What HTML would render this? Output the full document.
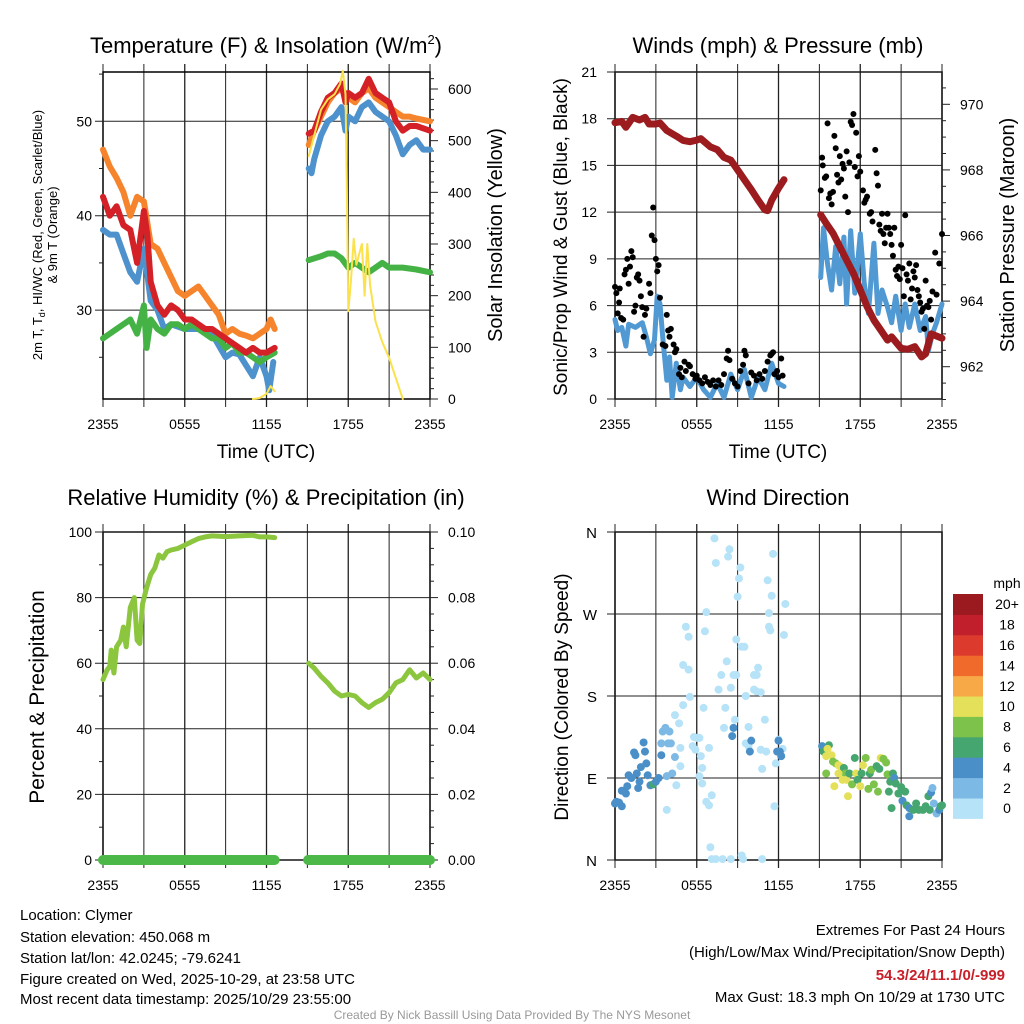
<!DOCTYPE html>
<html><head><meta charset="utf-8"><style>
html,body{margin:0;padding:0;background:#fff;}
svg{display:block;font-family:"Liberation Sans",Arial,sans-serif;}
</style></head><body>
<svg id="chart" width="1024" height="1024" viewBox="0 0 1024 1024" xmlns="http://www.w3.org/2000/svg">
<rect width="1024" height="1024" fill="#fff"/>
<g id="g1"></g>
<g id="g2"></g>
<g id="g3"></g>
<g id="g4"></g>
<g id="cb"></g>
<text x="266" y="53" font-size="22" text-anchor="middle">Temperature (F) &amp; Insolation (W/m<tspan font-size="13" dy="-9">2</tspan><tspan dy="9">)</tspan></text>
<text x="778" y="53" font-size="22" text-anchor="middle">Winds (mph) &amp; Pressure (mb)</text>
<text x="266" y="505" font-size="22" text-anchor="middle">Relative Humidity (%) &amp; Precipitation (in)</text>
<text x="778" y="505" font-size="22" text-anchor="middle">Wind Direction</text>
<text x="266" y="458" font-size="19" text-anchor="middle">Time (UTC)</text>
<text x="778" y="458" font-size="19" text-anchor="middle">Time (UTC)</text>
<text transform="translate(42,235) rotate(-90)" font-size="13" text-anchor="middle">2m T, T<tspan font-size="9" dy="3">d</tspan><tspan dy="-3">, HI/WC (Red, Green, Scarlet/Blue)</tspan></text>
<text transform="translate(57,235) rotate(-90)" font-size="13" text-anchor="middle">&amp; 9m T (Orange)</text>
<text transform="translate(502,235) rotate(-90)" font-size="20" text-anchor="middle">Solar Insolation (Yellow)</text>
<text transform="translate(567,237) rotate(-90)" font-size="19" text-anchor="middle">Sonic/Prop Wind &amp; Gust (Blue, Black)</text>
<text transform="translate(1014,235) rotate(-90)" font-size="20" text-anchor="middle">Station Pressure (Maroon)</text>
<text transform="translate(44,697) rotate(-90)" font-size="21" text-anchor="middle">Percent &amp; Precipitation</text>
<text transform="translate(568,697) rotate(-90)" font-size="19" text-anchor="middle">Direction (Colored By Speed)</text>
<g font-size="15">
<text x="20" y="920">Location: Clymer</text>
<text x="20" y="942">Station elevation: 450.068 m</text>
<text x="20" y="963">Station lat/lon: 42.0245; -79.6241</text>
<text x="20" y="984">Figure created on Wed, 2025-10-29, at 23:58 UTC</text>
<text x="20" y="1004">Most recent data timestamp: 2025/10/29 23:55:00</text>
</g>
<g font-size="15" text-anchor="end">
<text x="1005" y="935">Extremes For Past 24 Hours</text>
<text x="1005" y="957">(High/Low/Max Wind/Precipitation/Snow Depth)</text>
<text x="1005" y="980" fill="#c8202a" font-weight="bold">54.3/24/11.1/0/-999</text>
<text x="1005" y="1002">Max Gust: 18.3 mph On 10/29 at 1730 UTC</text>
</g>
<text x="512" y="1019" font-size="12" fill="#999" text-anchor="middle">Created By Nick Bassill Using Data Provided By The NYS Mesonet</text>
</svg>
<script>
// ---------- data (hours since 2355 UTC) ----------
const xTickLabels = ["2355","0555","1155","1755","2355"];
const tempTicks = [30,40,50];
const insolTicks = [0,100,200,300,400,500,600];
const windTicks = [0,3,6,9,12,15,18,21];
const presTicks = [962,964,966,968,970];
const rhTicks = [0,20,40,60,80,100];
const precipTickLabels = ["0.00","0.02","0.04","0.06","0.08","0.10"];
const dirTickLabels = ["N","E","S","W","N"];

const orangeH = [0,0.5,1,1.5,2,2.5,3,3.5,4,4.5,5,5.5,6,6.5,7,7.5,8,8.5,9,9.5,10,10.5,11,11.5,12,12.3,12.6, 15.1,15.5,16,16.5,17,17.5,18,18.5,19,19.5,20,20.5,21,21.5,22,22.5,23,24];
const orangeV = [47,45.2,44,42.5,40,42,41.5,37,36.5,35,33.5,32,31.5,32,32.5,31.5,30.5,29.5,27.5,28,27.5,27.3,27,27.5,28,29,28, 47.5,49,50.5,52,53,53.5,52.5,52,53,53.5,52.5,52,51.5,51,50.5,50.5,50.3,50];
const redH = [0,0.5,1,1.5,2,2.5,3,3.25,3.5,4,4.5,5,5.5,6,6.5,7,7.5,8,8.5,9,9.5,10,10.5,11,11.5,12,12.6, 15.1,15.5,16,16.5,17,17.5,17.8,18,18.5,19,19.5,20,20.5,21,21.5,22,22.5,23,24];
const redV = [42,40,41,39,38.5,35,40.5,38,33,30.5,29.5,30.5,30,29,29,28.5,28,28,27.5,27,26.5,26,25.5,26,25.5,25.5,26, 48.7,49,51,52.5,53,54,52,53,52.5,53,54.5,53,52.5,52,50,49,49.5,49.5,49];
const blueH = [0,0.5,1,1.5,2,2.5,3,3.5,4,4.5,5,6,7,8,9,9.5,10,11,11.5,12,12.2,12.5, 15.1,15.3,15.5,16,16.5,17,17.5,17.8,18,18.5,19,19.5,20,20.5,21,21.5,22,22.5,23,23.5,24];
const blueV = [38.5,38,38,36,34,33,36.5,31,30,28,28.5,28,28,27.5,25,25.5,25.3,23,25,23,21.5,24.5, 45,44.5,46,48.5,50,50.5,51.5,49,50.5,50,51.5,52,51,50.5,50,48.5,46.5,47.5,48,47,47];
const greenH = [0,0.5,1,1.5,2,2.5,3,3.2,3.5,4,4.5,5,5.5,6,6.5,7,7.5,8,8.5,9,9.5,10,10.5,11,11.5,12,12.6, 15.1,16,16.5,17,17.5,18,18.5,19,19.5,20,20.5,21,22,23,24];
const greenV = [27,27.5,28,28.5,29,27.5,30.5,26,29,28,27.5,28.5,28.5,28,28.5,28,27.5,27,27,26,26.5,25.5,25.5,25,24.5,25,25.5, 35.3,35.7,36,36,35.5,34.5,35,34.5,34,34.5,35,34.5,34.5,34.3,34];
const insolH = [0,4,8,11,11.5,12,12.3,12.6, 15.1,15.5,16,16.5,17,17.4,17.6,17.8,17.9,18,18.2,18.4,18.6,18.8,19,19.2,19.4,19.6,20,20.5,21,21.5,22,24];
const insolV = [0,0,0,0,2,10,25,15, 470,510,560,580,590,610,635,590,400,170,230,310,260,280,300,200,300,220,150,110,80,40,0,0];

const presH = [0,0.5,0.8,1.3,1.8,2.2,2.5,3,3.3,3.8,4.5,5,5.5,6,6.3,7,7.5,8,8.5,9,9.5,10,10.5,11,11.2,11.5,12,12.4, 15.1,15.5,16,16.5,17,17.5,18,18.5,19,19.5,20,20.3,20.7,21,21.5,22,22.5,22.8,23.2,23.5,24];
const presV = [969.44,969.48,969.3,969.6,969.52,969.6,969.4,969.4,969.43,969.2,969.03,968.9,968.86,968.91,968.95,968.7,968.62,968.38,968.3,968.0,967.7,967.4,967.08,966.78,966.76,967.08,967.44,967.7, 966.63,966.37,966.07,965.66,965.25,964.85,964.34,963.83,963.42,963.12,962.81,962.91,962.71,962.56,962.53,962.61,962.3,962.4,963.0,962.95,962.87];
const windH = [0,0.2,0.5,0.8,1,1.5,2,2.3,2.6,2.9,3.1,3.3,3.5,3.8,4,4.2,4.5,4.8,5,5.5,6,6.5,7,7.5,8,8.5,9,9.5,10,10.5,11,11.5,12,12.4, 15.1,15.3,15.6,15.9,16.2,16.5,16.8,17,17.3,17.6,18,18.3,18.6,19,19.3,19.6,20,20.3,20.6,21,21.3,21.6,22,22.4,22.8,23,23.3,23.6,24];
const windV = [5.1,4.4,4.6,3.4,4.8,4.6,4.9,4.0,2.9,3.8,6.6,6.1,4.0,1.2,2.7,0.1,2.3,0.6,1.4,0.8,1.4,0.6,0.1,1.0,0.1,1.6,0.6,1.9,0.1,1.4,0.6,2.3,1.0,0.8, 7.8,11.0,8.7,7.0,9.8,7.4,10.4,6.1,10.8,6.8,10.6,7.4,5.5,10.0,5.5,7.0,5.9,4.9,6.6,4.4,6.1,4.6,6.1,4.4,5.3,3.1,4.2,4.9,6.1];
const gustH = [0,0.1,0.2,0.3,0.35,0.45,0.6,0.7,0.8,0.9,1.0,1.1,1.2,1.3,1.4,1.5,1.6,1.7,1.8,1.9,2.0,2.1,2.2,2.3,2.5,2.6,2.7,2.8,2.9,3.0,3.1,3.2,3.3,3.5,3.7,3.8,3.9,4.0,4.1,4.3,4.4,4.5,4.7,4.8,4.9,5.1,5.2,5.4,5.5,5.7,5.9,6.0,6.2,6.4,6.6,6.8,7.0,7.2,7.4,7.6,7.8,8.0,8.2,8.3,8.4,8.6,8.8,9.0,9.2,9.4,9.5,9.6,9.8,10.0,10.2,10.4,10.6,10.8,11.0,11.2,11.4,11.5,11.6,11.7,11.9,12.0,12.2,12.3,
 15.1,15.2,15.25,15.4,15.5,15.6,15.7,15.8,15.9,16.0,16.1,16.2,16.3,16.4,16.5,16.6,16.7,16.8,16.9,17.0,17.1,17.2,17.3,17.4,17.5,17.6,17.7,17.8,17.9,18.0,18.2,18.3,18.4,18.5,18.7,18.8,18.9,19.1,19.2,19.3,19.4,19.5,19.6,19.7,19.8,19.9,20.0,20.1,20.2,20.3,20.4,20.5,20.6,20.7,20.8,20.9,21.0,21.1,21.2,21.3,21.4,21.5,21.6,21.7,21.8,21.9,22.0,22.1,22.2,22.3,22.4,22.5,22.6,22.7,22.8,22.9,23.0,23.1,23.2,23.3,23.5,23.6,23.8,24.0];
const gustV = [7.2,6.8,5.5,6.2,7.1,5.2,5.1,8.0,8.3,9.0,7.4,8.5,9.5,9.1,5.6,6.0,7.8,8.0,7.6,6.6,5.9,4.0,5.4,5.8,7.4,6.8,10.5,12.3,10.2,9.0,8.2,8.6,6.5,3.5,3.4,5.4,4.4,4.0,4.5,3.5,3.0,3.2,1.6,2.0,1.4,2.4,1.8,2.2,2.1,1.6,1.3,1.5,1.2,1.0,1.4,1.1,0.9,1.2,0.8,1.2,0.9,1.6,2.6,3.1,2.5,1.3,1.0,0.8,1.8,2.2,3.1,2.8,1.0,1.7,1.5,1.2,1.6,1.3,1.8,2.4,2.8,2.9,3.0,1.6,1.8,1.4,2.6,1.5,
 13.4,15.5,15.0,14.2,14.3,17.7,12.9,13.2,12.5,13.3,16.9,16.1,14.4,13.9,15.6,14.1,15.1,14.8,13.0,15.9,12.0,15.2,17.8,17.6,18.3,14.9,17.1,14.3,15.6,14.6,13.4,12.6,12.8,13.0,11.9,12.0,11.4,16.0,14.5,13.7,11.2,10.8,11.9,10.6,10.0,11.0,11.9,11.0,10.6,9.9,9.2,11.0,8.3,7.9,8.5,7.7,9.9,8.4,6.6,11.8,8.0,7.6,8.7,6.4,7.1,8.2,7.8,8.6,7.0,6.6,6.2,5.6,5.8,4.5,7.6,6.0,5.9,6.3,5.1,6.9,9.4,6.7,8.7,10.6];

const rhH = [0,0.3,0.5,0.6,0.8,1.0,1.3,1.5,1.7,2.0,2.3,2.5,2.7,2.9,3.2,3.5,3.8,4.1,4.4,4.7,5,5.5,6,6.5,7,7.5,8,9,10,11,11.5,12,12.6, 15.1,15.5,16,16.5,17,17.5,18,18.5,19,19.5,20,20.5,21,21.5,22,22.5,23,23.5,24];
const rhV = [55,58,59,64,57,65,67,71,65,77,80,67,66,78,83,87,89,93,92,94,94.5,95,96,97,98,98.5,98.8,98.6,98.8,99,98.5,98.5,98.3, 60,58.5,56,54,51.5,50,50.5,50,48,46.5,48,49,51,54,55,58,55.5,57,55];
const precipH = [0,1,2,3,4,5,6,7,8,9,10,11,12,12.6, 15.05,16,17,18,19,20,21,22,23,24];
const precipV = [0,0,0,0,0,0,0,0,0,0,0,0,0,0, 0,0,0,0,0,0,0,0,0,0];

const dirH = [0.0,0.1,0.3,0.5,0.5,0.8,0.9,1.0,1.2,1.4,1.5,1.6,1.7,1.8,1.9,2.1,2.2,2.3,2.4,2.6,2.8,3.0,3.2,3.4,4.2,4.4,
 3.5,3.7,4.0,3.4,3.9,4.1,3.8,
 3.8,4.4,4.7,4.8,4.5,4.8,5.0,5.2,5.4,5.4,5.5,5.0,5.8,5.7,5.9,6.0,6.2,6.3,6.4,6.4,6.2,6.5,6.6,6.7,6.9,7.1,6.7,6.9,7.0,7.1,7.4,7.4,7.3,7.6,7.8,7.9,8.0,8.1,8.2,8.3,8.4,8.5,8.5,8.7,8.9,8.9,9.0,9.1,9.2,9.3,9.4,9.3,9.5,9.6,9.8,9.6,9.8,10.2,10.4,10.5,10.2,10.4,10.7,10.7,10.8,10.8,11.0,11.1,11.2,11.3,11.3,11.4,11.5,11.6,11.7,11.8,12.0,12.3,12.4,12.5,
 8.8,8.7,8.6,10.0,9.9,12.0,12.1,12.2,11.9,
 15.2,15.7,15.3,15.5,15.6,15.9,16.0,16.2,16.4,16.6,16.8,16.9,15.5,16.1,16.4,16.7,17.0,17.1,17.2,17.4,17.6,17.7,17.8,18.0,18.1,18.2,18.4,18.6,18.7,18.8,19.0,19.2,19.3,19.4,19.5,19.7,19.9,20.0,20.1,20.2,20.3,20.4,20.5,20.6,20.8,21.0,21.1,21.3,21.4,21.6,21.6,21.9,22.1,22.3,22.6,22.8,23.1,23.0,23.2,23.3,23.4,23.6,23.8,23.9,24.0];
const dirV = [62,64,63,59,76,73,81,93,90,118,115,95,79,86,102,129,119,106,93,82,83,86,90,115,95,113,
 141,145,141,128,128,128,92,
 55,159,150,123,82,103,214,256,245,209,179,170,135,125,121,134,134,114,101,84,92,167,251,272,123,71,64,60,14,1,1,326,353,187,203,1,145,167,218,333,341,1,189,203,203,242,289,309,321,5,1,234,234,180,146,128,125,203,203,211,187,185,184,121,1,100,154,119,307,271,256,252,290,336,59,106,132,122,247,281,
 154,145,136,131,119,131,119,114,119,
 125,126,119,114,122,115,108,106,104,102,101,95,95,81,95,88,88,70,95,83,112,95,88,81,95,104,112,78,95,99,83,103,75,100,112,111,107,94,75,86,57,95,90,84,73,80,65,75,60,48,57,55,62,55,55,59,55,70,74,79,62,51,55,59,60];
const dirSpeed = [5,5,5,5,5,5,5,5,5,5,5,5,5,5,5,5,5,5,5,5,7,5,5,5,3,3,
 3,3,3,3,3,3,3,
 1,1,1,1,1,1,1,1,1,1,1,1,1,1,1,1,1,1,1,1,1,1,1,1,1,1,1,1,1,1,1,1,1,1,1,1,1,1,1,1,1,1,1,1,1,1,1,1,1,1,1,1,1,1,1,1,1,1,1,1,1,1,1,1,1,1,1,1,1,1,1,1,1,1,1,1,1,1,1,1,1,
 5,5,5,5,5,5,5,5,5,
 7,7,11,11,11,9,9,11,11,7,9,9,11,11,11,11,11,7,9,7,11,7,11,7,11,9,9,7,9,9,7,9,7,11,9,9,9,7,7,7,7,5,7,7,7,5,7,7,5,5,7,7,7,7,7,7,7,5,3,3,3,5,7,7,7];
const cbLabels = ["0","2","4","6","8","10","12","14","16","18","20+"];
const cbColors = ["#b6e3f8","#7db9e5","#4a8fc8","#46a670","#7dc24b","#e5e05a","#f7a947","#f06b2b","#dd3a2e","#c01f2b","#9b1a1f"];

// ---------- drawing ----------
const NS = "http://www.w3.org/2000/svg";
function mk(parent, tag, attrs){const e=document.createElementNS(NS,tag);for(const k in attrs)e.setAttribute(k,attrs[k]);parent.appendChild(e);return e;}
function txt(parent,x,y,s,size,anchor){const t=mk(parent,"text",{x:x,y:y,"font-size":size,"text-anchor":anchor});t.textContent=s;return t;}
function scale(d0,d1,r0,r1){return v=>r0+(v-d0)/(d1-d0)*(r1-r0);}
function segs(hs,vs,sx,sy){const out=[];let cur=[];for(let i=0;i<hs.length;i++){if(i>0&&hs[i]-hs[i-1]>1.5){out.push(cur);cur=[];}cur.push(sx(hs[i]).toFixed(1)+","+sy(vs[i]).toFixed(1));}out.push(cur);return out;}
function line(g,hs,vs,sx,sy,color,w,name){segs(hs,vs,sx,sy).forEach(pts=>{const p=mk(g,"polyline",{points:pts.join(" "),fill:"none",stroke:color,"stroke-width":w,"stroke-linejoin":"round","stroke-linecap":"round"});

});}

function frame(g,L,R,T,B){
  const sx=scale(0,24,L,R);
  for(let h=0;h<=24;h+=3){const x=sx(h);const l=mk(g,"line",{x1:x,y1:T-8,x2:x,y2:B+8,stroke:"#222","stroke-width":(h%6===0&&h>0&&h<24)?1.3:1});
  
  }
  xTickLabels.forEach((s,i)=>{const t=txt(g,sx(i*6),B+30,s,14,"middle");
  
  });
  mk(g,"rect",{x:L,y:T,width:R-L,height:B-T,fill:"none",stroke:"#000","stroke-width":1.5});
  return sx;
}
function hgrid(g,L,R,y,major){const l=mk(g,"line",{x1:major?L-8:L-4,y1:y,x2:major?R:L,y2:y,stroke:"#222","stroke-width":1});

}
function rtick(g,R,y,major){const l=mk(g,"line",{x1:R,y1:y,x2:R+(major?8:4),y2:y,stroke:"#222","stroke-width":1});

}

// Panel 1
(function(){
  const g=document.getElementById("g1");const L=103,R=430,T=72,B=399;
  const sx=frame(g,L,R,T,B);
  const sy=scale(50,40,121.3,215.7);
  const si=scale(0,600,399,89);
  for(let v=22;v<=55;v+=1){if(v%5===0)hgrid(g,L,R,sy(v),v%10===0);}
  tempTicks.forEach(v=>{const t=txt(g,92,sy(v)+5,String(v),14,"end");});
  for(let v=0;v<=620;v+=20){if(si(v)>=T)rtick(g,R,si(v),v%100===0);}
  insolTicks.forEach(v=>{const t=txt(g,448,si(v)+5,String(v),14,"start");});
  line(g,orangeH,orangeV,sx,sy,"#f5842d",6,"series-9m-temp");
  line(g,blueH,blueV,sx,sy,"#4d92cc",6,"series-heat-index-windchill");
  line(g,greenH,greenV,sx,sy,"#45b245",6,"series-dewpoint");
  line(g,redH,redV,sx,sy,"#d42027",6,"series-2m-temp");
  line(g,insolH,insolV,sx,si,"#fbe14b",2,"series-insolation");
})();

// Panel 2
(function(){
  const g=document.getElementById("g2");const L=615,R=942,T=72,B=399;
  const sx=frame(g,L,R,T,B);
  const sy=scale(0,21,B,T);
  const sp=scale(962,970,366.7,104.3);
  windTicks.forEach(v=>{hgrid(g,L,R,sy(v),true);const t=txt(g,597,sy(v)+5,String(v),14,"end");});
  for(let v=961.2;v<=970.9;v+=0.5){const vv=Math.round(v*2)/2;rtick(g,R,sp(vv),vv%2===0);}
  presTicks.forEach(v=>{const t=txt(g,960,sp(v)+5,String(v),14,"start");});
  line(g,windH,windV,sx,sy,"#5199d3",5,"series-sonic-wind");
  gustH.forEach((h,i)=>{const c=mk(g,"circle",{cx:sx(h),cy:sy(gustV[i]),r:3,fill:"#000"});
  
  });
  line(g,presH,presV,sx,sp,"#9b1b1e",7,"series-pressure");
})();

// Panel 3
(function(){
  const g=document.getElementById("g3");const L=103,R=430,T=532,B=860;
  const sx=frame(g,L,R,T,B);
  const sy=scale(0,100,B,T);
  for(let v=0;v<=100;v+=10)hgrid(g,L,R,sy(v),v%20===0);
  for(let v=0;v<=100;v+=5)rtick(g,R,sy(v),v%20===0);
  rhTicks.forEach((v,i)=>{const t=txt(g,92,sy(v)+5,String(v),14,"end");
  const t2=txt(g,448,sy(v)+5,precipTickLabels[i],14,"start");});
  const spp=scale(0,0.1,B,T);
  line(g,precipH,precipV,sx,spp,"#4cb848",10,"series-precipitation");
  line(g,rhH,rhV,sx,sy,"#8cc63f",5,"series-relative-humidity");
})();

// Panel 4
(function(){
  const g=document.getElementById("g4");const L=615,R=942,T=532,B=860;
  const sx=frame(g,L,R,T,B);
  const sy=scale(0,360,B,T);
  dirTickLabels.forEach((s,i)=>{hgrid(g,L,R,sy(i*90),true);const t=txt(g,597,sy(i*90)+6,s,15,"end");});
  dirH.forEach((h,i)=>{const k=Math.min(10,Math.floor(dirSpeed[i]/2));const c=mk(g,"circle",{cx:sx(h),cy:sy(dirV[i]),r:4,fill:cbColors[k]});
  
  });
})();

// Colorbar
(function(){
  const g=document.getElementById("cb");const x0=953,w=30,top=594,bh=20.4;
  const t0=txt(g,1007,588,"mph",14,"middle");
  
  
  cbColors.forEach((c,i)=>{const y=top+(10-i)*bh;const r=mk(g,"rect",{x:x0,y:y,width:w,height:bh+0.5,fill:c});
  
  
  const t=txt(g,1007,y+bh/2+5,cbLabels[i],14,"middle");
  
  });
})();
</script>
</body></html>
